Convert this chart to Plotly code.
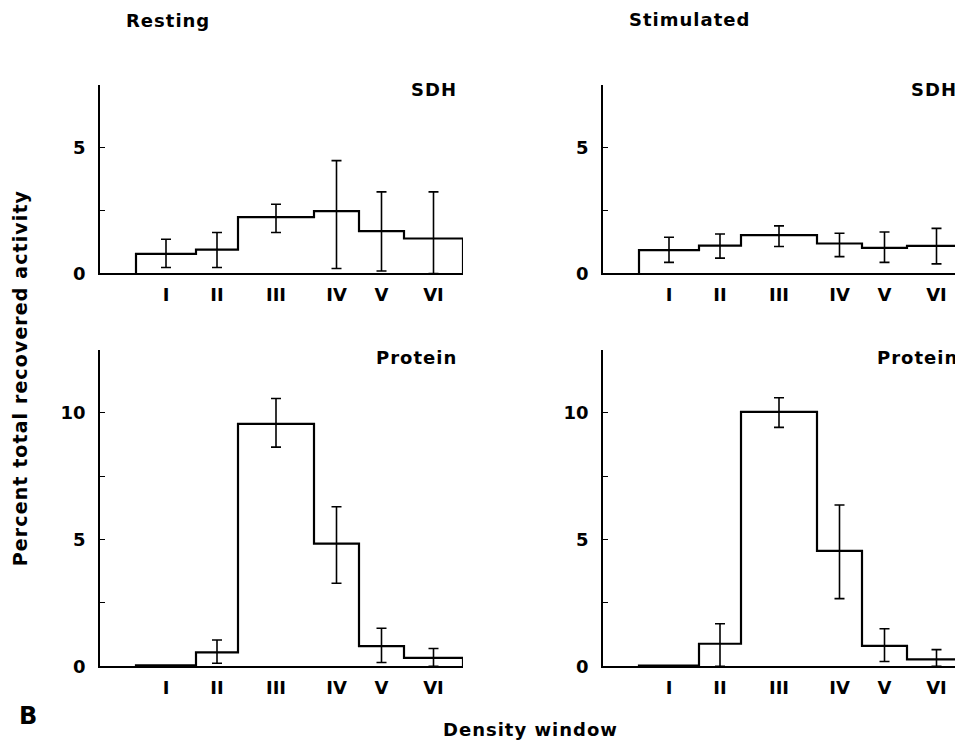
import plotly.graph_objects as go

# Page is 963 wide; the browser body has an 8px margin.  The observed picture is
# slightly compressed vertically, so vertical positions are mapped accordingly.
OFF = 8
FW, FH = 963 - OFF, 745
VS, VB = 0.9845, 0.7  # observed_y = VS * page_y + VB

# ---- data ----
windows = ["I", "II", "III", "IV", "V", "VI"]
bin_edges = [36, 96, 138, 214, 259, 304, 363]  # density position (arbitrary units)

rest_sdh = [0.78, 0.95, 2.24, 2.48, 1.68, 1.39]
rest_sdh_err_hi = [0.58, 0.68, 0.51, 2.00, 1.56, 1.85]
rest_sdh_err_lo = [0.54, 0.71, 0.61, 2.28, 1.58, 1.39]

stim_sdh = [0.93, 1.11, 1.52, 1.19, 1.02, 1.10]
stim_sdh_err_hi = [0.51, 0.46, 0.37, 0.41, 0.63, 0.69]
stim_sdh_err_lo = [0.49, 0.50, 0.45, 0.52, 0.58, 0.72]

rest_prot = [0.04, 0.55, 9.57, 4.84, 0.80, 0.33]
rest_prot_err_hi = [None, 0.49, 1.00, 1.46, 0.70, 0.37]
rest_prot_err_lo = [None, 0.43, 0.92, 1.56, 0.65, 0.33]

stim_prot = [0.03, 0.89, 10.04, 4.56, 0.81, 0.27]
stim_prot_err_hi = [None, 0.79, 0.56, 1.81, 0.67, 0.39]
stim_prot_err_lo = [None, 0.89, 0.61, 1.89, 0.62, 0.27]

sdh_ticks = [0, 2.5, 5, 7.5]
sdh_ticktext = ["0", "", "5", ""]
prot_ticks = [0, 2.5, 5, 7.5, 10, 12.5]
prot_ticktext = ["0", "", "5", "", "10", ""]

FONT = "DejaVu Sans"
centers = [(bin_edges[i] + bin_edges[i + 1]) / 2 for i in range(len(windows))]


def px(x):
    return (x - OFF) / FW


def py(y):
    fy = (y - VB) / VS - OFF
    return 1 - fy / FH


fig = go.Figure()

panels = [
    ("x", "y", rest_sdh, rest_sdh_err_hi, rest_sdh_err_lo),
    ("x2", "y2", stim_sdh, stim_sdh_err_hi, stim_sdh_err_lo),
    ("x3", "y3", rest_prot, rest_prot_err_hi, rest_prot_err_lo),
    ("x4", "y4", stim_prot, stim_prot_err_hi, stim_prot_err_lo),
]

for xa, ya, vals, ehi, elo in panels:
    xs = [bin_edges[0]]
    ys = [0]
    for i, v in enumerate(vals):
        xs += [bin_edges[i], bin_edges[i + 1]]
        ys += [v, v]
    xs.append(bin_edges[-1])
    ys.append(0)
    fig.add_trace(go.Scatter(x=xs, y=ys, mode="lines", xaxis=xa, yaxis=ya,
                             line=dict(color="black", width=2.2), hoverinfo="skip"))
    idx = [i for i in range(len(vals)) if ehi[i] is not None]
    fig.add_trace(go.Scatter(
        x=[centers[i] for i in idx], y=[vals[i] for i in idx], mode="markers",
        xaxis=xa, yaxis=ya, marker=dict(size=1, color="rgba(0,0,0,0)"),
        error_y=dict(type="data", symmetric=False,
                     array=[ehi[i] for i in idx], arrayminus=[elo[i] for i in idx],
                     width=5, thickness=1.6, color="black"),
        hoverinfo="skip"))

tickfont = dict(family=FONT, size=18, color="black", weight="bold")


def xaxis(domain, rng, anchor):
    return dict(domain=domain, range=rng, showline=True, linewidth=1.6, linecolor="black",
                showgrid=False, zeroline=False, ticks="", tickmode="array",
                tickvals=centers, ticktext=windows, tickfont=tickfont,
                ticklabelstandoff=4, anchor=anchor, fixedrange=True)


def yaxis(domain, rng, tv, tt, anchor):
    return dict(domain=domain, range=rng, showline=True, linewidth=1.6, linecolor="black",
                showgrid=False, zeroline=False, ticks="inside", ticklen=5, tickwidth=1.2,
                tickcolor="black", tickmode="array", tickvals=tv, ticktext=tt,
                tickfont=tickfont, ticklabelstandoff=9, anchor=anchor, fixedrange=True)


xl = [px(100), px(463)]
xr = [px(603), 1.0]
yt = [py(273.5), py(85)]
yb = [py(665.5), py(349.5)]
right_max = (963 - 603)  # visible part of right panels

fig.update_layout(
    width=FW, height=FH, margin=dict(l=0, r=0, t=0, b=0),
    paper_bgcolor="white", plot_bgcolor="white", showlegend=False,
    xaxis=xaxis(xl, [0, 363], "y"),
    xaxis2=xaxis(xr, [0, right_max], "y2"),
    xaxis3=xaxis(xl, [0, 363], "y3"),
    xaxis4=xaxis(xr, [0, right_max], "y4"),
    yaxis=yaxis(yt, [0, 7.5], sdh_ticks, sdh_ticktext, "x"),
    yaxis2=yaxis(yt, [0, 7.5], sdh_ticks, sdh_ticktext, "x2"),
    yaxis3=yaxis(yb, [0, 12.5], prot_ticks, prot_ticktext, "x3"),
    yaxis4=yaxis(yb, [0, 12.5], prot_ticks, prot_ticktext, "x4"),
)


def ann(text, x, y, xanchor="left", size=18, angle=0, spacing=1.0):
    fig.add_annotation(text=f'<span style="letter-spacing:{spacing}px">{text}</span>',
                       x=px(x), y=py(y), xref="paper", yref="paper",
                       xanchor=xanchor, yanchor="middle", showarrow=False, textangle=angle,
                       font=dict(family=FONT, size=size, color="black", weight="bold"))


ann("Resting", 124, 21)
ann("Stimulated", 627, 20)
ann("SDH", 459, 90, "right")
ann("SDH", 959, 90, "right")
ann("Protein", 459, 357, "right")
ann("Protein", 960, 357, "right")
ann("Percent total recovered activity", 20, 378, "center", size=19, angle=-90, spacing=1.1)
ann("B", 28, 715, "center", size=24, spacing=0)
ann("Density window", 530, 729, "center")

fig.write_html("out.html")
